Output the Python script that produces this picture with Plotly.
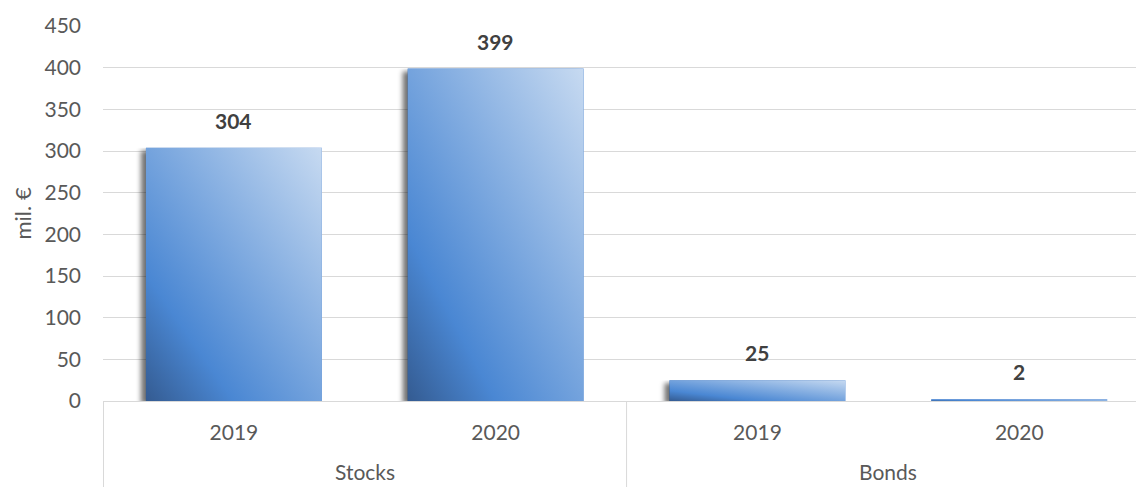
import base64
import plotly.graph_objects as go

# Data
groups = ["Stocks", "Stocks", "Bonds", "Bonds"]
years = ["2019", "2020", "2019", "2020"]
values = [304, 399, 25, 2]
group_names = ["Stocks", "Bonds"]
y_ticks = [0, 50, 100, 150, 200, 250, 300, 350, 400, 450]

# Layout geometry
W, H = 1136, 487
M_L, M_R, M_T, M_B = 103, 0, 26, 86
X_RANGE = [-0.5, 3.446]
Y_RANGE = [0, 450]
BAR_W = 0.672

plot_w = W - M_L - M_R
plot_h = H - M_T - M_B
px_x = plot_w / (X_RANGE[1] - X_RANGE[0])
px_y = plot_h / (Y_RANGE[1] - Y_RANGE[0])

FONT = "Lato, 'Open Sans', sans-serif"
TEXT = "#595959"
GRID = "#d9d9d9"

xs = list(range(len(values)))

fig = go.Figure()
fig.add_trace(go.Bar(
    x=xs, y=values, width=BAR_W,
    marker=dict(color="#5b8fd6", line=dict(width=0)),
    hovertemplate="%{customdata}<br>%{y}<extra></extra>",
    customdata=[f"{g} {y}" for g, y in zip(groups, years)],
))


def bar_face(w, h, pad):
    """Diagonal gradient face with a soft drop shadow to the lower left."""
    svg = (
        f"<svg xmlns='http://www.w3.org/2000/svg' width='{w + pad:.2f}' height='{h:.2f}' "
        f"viewBox='0 0 {w + pad:.2f} {h:.2f}' preserveAspectRatio='none'>"
        "<defs>"
        "<linearGradient id='g' x1='0' y1='1' x2='1' y2='0'>"
        "<stop offset='0' stop-color='#345b91'/>"
        "<stop offset='0.25' stop-color='#4a87d3'/>"
        "<stop offset='1' stop-color='#c7daf1'/>"
        "</linearGradient>"
        "<filter id='s' x='-50%' y='-50%' width='200%' height='200%'>"
        "<feGaussianBlur stdDeviation='2.6'/></filter>"
        "</defs>"
        f"<rect x='{pad - 5:.2f}' y='3' width='{w:.2f}' height='{h:.2f}' "
        "fill='#000' fill-opacity='0.55' filter='url(#s)'/>"
        f"<rect x='{pad:.2f}' y='0' width='{w:.2f}' height='{h:.2f}' fill='url(#g)'/>"
        "</svg>"
    )
    return "data:image/svg+xml;base64," + base64.b64encode(svg.encode()).decode()


PAD = 12
images = []
for x, v in zip(xs, values):
    w_px = BAR_W * px_x
    h_px = max(v * px_y, 1.0)
    images.append(dict(
        source=bar_face(w_px, h_px, PAD),
        xref="x", yref="y",
        x=x - BAR_W / 2 - PAD / px_x, y=v,
        sizex=BAR_W + PAD / px_x, sizey=v,
        xanchor="left", yanchor="top",
        sizing="stretch", layer="above",
    ))

annotations = []
# value labels above bars
for x, v in zip(xs, values):
    annotations.append(dict(
        x=x, y=v, xref="x", yref="y", text=f"<b>{v}</b>", showarrow=False,
        yanchor="bottom", yshift=13,
        font=dict(family=FONT, size=21, color="#404040"),
    ))
# group labels under the year labels
for i, g in enumerate(group_names):
    annotations.append(dict(
        x=2 * i + 0.5, y=-70 / plot_h, xref="x", yref="paper", text=g,
        showarrow=False, yanchor="middle",
        font=dict(family=FONT, size=21, color=TEXT),
    ))
# y-axis title
annotations.append(dict(
    x=-(M_L - 22) / plot_w, y=0.5, xref="paper", yref="paper", text="mil. €",
    textangle=-90, showarrow=False, xanchor="center", yanchor="middle",
    font=dict(family=FONT, size=22, color=TEXT),
))

# group divider lines below the axis
shapes = []
for b in [-0.5, 1.5, 3.5]:
    xp = (b - X_RANGE[0]) / (X_RANGE[1] - X_RANGE[0])
    if xp > 1:
        continue
    xp += 0.5 / plot_w if xp == 0 else 0
    shapes.append(dict(
        type="line", xref="paper", yref="paper",
        x0=xp, x1=xp, y0=0, y1=-M_B / plot_h,
        line=dict(color=GRID, width=1),
    ))

fig.update_layout(
    width=W, height=H,
    margin=dict(l=M_L, r=M_R, t=M_T, b=M_B, autoexpand=False),
    paper_bgcolor="white", plot_bgcolor="white",
    showlegend=False,
    images=images, annotations=annotations, shapes=shapes,
    font=dict(family=FONT, size=21, color=TEXT),
)
fig.update_xaxes(
    range=X_RANGE, tickvals=xs, ticktext=years, ticks="",
    showgrid=False, zeroline=False, showline=True, linecolor=GRID, linewidth=1,
    ticklabelstandoff=13,
    tickfont=dict(family=FONT, size=21, color=TEXT),
)
fig.update_yaxes(
    range=Y_RANGE, tickvals=y_ticks, ticks="",
    showgrid=True, gridcolor=GRID, gridwidth=1, zeroline=False, showline=False,
    ticklabelstandoff=21,
    tickfont=dict(family=FONT, size=21, color=TEXT),
)

fig.write_html("out.html")
